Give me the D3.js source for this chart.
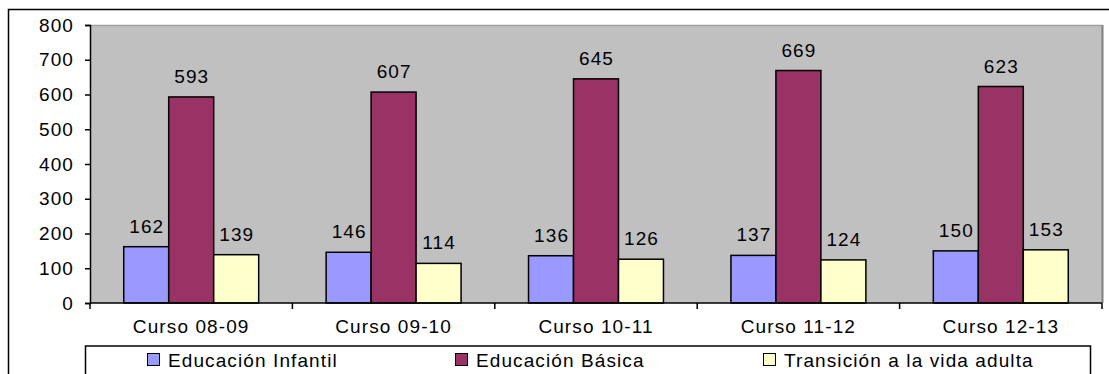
<!DOCTYPE html>
<html><head><meta charset="utf-8">
<script src="https://cdn.jsdelivr.net/npm/d3@7"></script>
<style>
html,body{margin:0;padding:0;background:#fff;}
svg{display:block;}
text{font-family:"Liberation Sans",Arial,sans-serif;fill:#000;}
</style></head><body>
<svg id="c" width="1109" height="374"></svg>
<script>
const categories = ["Curso 08-09","Curso 09-10","Curso 10-11","Curso 11-12","Curso 12-13"];
const seriesNames = ["Educación Infantil","Educación Básica","Transición a la vida adulta"];
const infantil = [162,146,136,137,150];
const basica = [593,607,645,669,623];
const transicion = [139,114,126,124,153];
const yTicks = [0,100,200,300,400,500,600,700,800];
const colors = ["#9999FF","#993366","#FFFFCC"];
const seriesValues = [infantil, basica, transicion];

const svg = d3.select("#c");
const FS = 19, LS = 1.1;
const m = {left:90, right:1102, top:25, bottom:303};

// outer frame
svg.append("rect").attr("x",8.5).attr("y",9.5).attr("width",1120).attr("height",420)
  .attr("fill","#fff").attr("stroke","#000").attr("stroke-width",1.5);

const x = d3.scaleBand().domain(categories).range([m.left,m.right]).paddingInner(0).paddingOuter(0);
const y = d3.scaleLinear().domain([0,800]).range([m.bottom,m.top]);
const gw = x.bandwidth();
const barW = gw/(3+1.5);
const xs = d3.scaleBand().domain(d3.range(3)).range([barW*0.75, gw-barW*0.75]).padding(0);

// plot area
svg.append("rect").attr("x",m.left).attr("y",m.top).attr("width",m.right-m.left).attr("height",m.bottom-m.top)
  .attr("fill","#C0C0C0");
svg.append("line").attr("x1",m.left).attr("x2",m.right).attr("y1",m.top+0.5).attr("y2",m.top+0.5)
  .attr("stroke","#a0a0a0").attr("stroke-width",1.5);
svg.append("line").attr("x1",m.right+0.5).attr("x2",m.right+0.5).attr("y1",m.top).attr("y2",m.bottom)
  .attr("stroke","#808080").attr("stroke-width",2);

// bars
const rows = [];
categories.forEach((c,i)=>seriesValues.forEach((s,j)=>rows.push({c,j,v:s[i]})));
svg.append("g").selectAll("rect").data(rows).join("rect")
  .attr("x",d=>x(d.c)+xs(d.j)).attr("width",xs.bandwidth())
  .attr("y",d=>y(d.v)).attr("height",d=>y(0)-y(d.v))
  .attr("fill",d=>colors[d.j]).attr("stroke","#000").attr("stroke-width",1.5);
svg.append("g").selectAll("text").data(rows).join("text")
  .attr("x",d=>x(d.c)+xs(d.j)+xs.bandwidth()/2+LS/2).attr("y",d=>y(d.v)-14)
  .attr("text-anchor","middle").style("font-size",FS+"px").style("letter-spacing",LS+"px")
  .text(d=>d.v);

// y axis
const ya = svg.append("g").attr("transform",`translate(${m.left},0)`)
  .call(d3.axisLeft(y).tickValues(yTicks).tickSize(5).tickPadding(11));
ya.select(".domain").attr("stroke","#000").attr("stroke-width",1.5);
ya.selectAll(".tick line").attr("stroke","#000").attr("stroke-width",1.5);
ya.selectAll("text").style("font-size",FS+"px").style("letter-spacing",LS+"px")
  .attr("font-family",null).attr("fill","#000");

// x axis
const xa = svg.append("g").attr("transform",`translate(0,${m.bottom})`)
  .call(d3.axisBottom(x).tickSize(0).tickPadding(17));
xa.select(".domain").attr("stroke","#000").attr("stroke-width",1.5).attr("d",`M${m.left},0H${m.right}`);
xa.selectAll("text").style("font-size",FS+"px").style("letter-spacing",LS+"px").attr("fill","#000");
const bounds = d3.range(categories.length+1).map(i=>m.left+i*gw);
svg.append("g").selectAll("line").data(bounds).join("line")
  .attr("x1",d=>d).attr("x2",d=>d).attr("y1",m.bottom).attr("y2",m.bottom+6)
  .attr("stroke","#000").attr("stroke-width",1.5);

// legend
svg.append("rect").attr("x",85.5).attr("y",346).attr("width",1005).attr("height",60)
  .attr("fill","#fff").attr("stroke","#000").attr("stroke-width",1.5);
const lg = svg.append("g").selectAll("g").data(seriesNames).join("g")
  .attr("transform",(d,i)=>`translate(${147+i*308},0)`);
lg.append("rect").attr("x",0.5).attr("y",353.5).attr("width",12).attr("height",12)
  .attr("fill",(d,i)=>colors[i]).attr("stroke","#000").attr("stroke-width",1);
lg.append("text").attr("x",21).attr("y",366.5).style("font-size",FS+"px").style("letter-spacing",LS+"px")
  .text(d=>d);
</script>
</body></html>
